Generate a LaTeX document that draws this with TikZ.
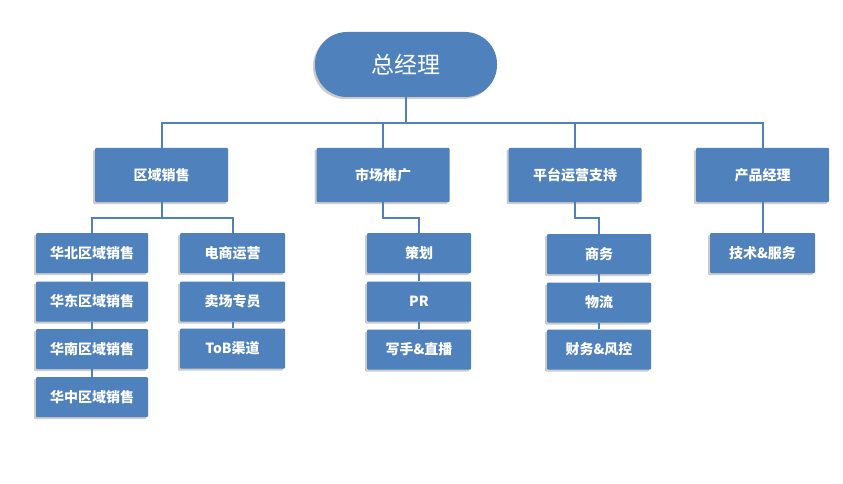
\documentclass[tikz,border=0pt]{standalone}
\usepackage{fontspec}
\newfontfamily\cjk{Noto Sans CJK SC}
\usetikzlibrary{shadows}
\definecolor{boxblue}{HTML}{4F81BD}
\tikzset{
  x=1pt, y=-1pt,
  unitbox/.style={fill=boxblue, text=white, rounded corners=1pt, inner sep=0pt,
    font=\cjk\bfseries\fontsize{14}{15}\selectfont,
    drop shadow={shadow xshift=-2pt, shadow yshift=-2pt, fill=black, opacity=0.2}},
  mainbox/.style={unitbox, minimum width=133pt, minimum height=54pt},
  subbox/.style={unitbox, minimum width=105pt, minimum height=40pt},
  topbox/.style={unitbox, rounded corners=32pt, minimum width=182pt, minimum height=65pt,
    font=\cjk\fontsize{23}{25}\selectfont},
  link/.style={draw=boxblue, line width=2pt}
}
\begin{document}
\begin{tikzpicture}
\useasboundingbox[fill=white] (0,0) rectangle (843,484);
% top
\node[topbox] (gm) at (406,64.5) {总经理};
% level 2
\node[mainbox] (a) at (161.5,175) {区域销售};
\node[mainbox] (b) at (383,175) {市场推广};
\node[mainbox] (c) at (575,175) {平台运营支持};
\node[mainbox] (d) at (762.5,175) {产品经理};
% level 3: 区域销售
\node[subbox, minimum width=112pt] (n1) at (92,253) {华北区域销售};
\node[subbox, minimum width=112pt] (n2) at (92,301.5) {华东区域销售};
\node[subbox, minimum width=112pt] (n3) at (92,349) {华南区域销售};
\node[subbox, minimum width=112pt] (n4) at (92,397) {华中区域销售};
\node[subbox] (e1) at (232.5,253) {电商运营};
\node[subbox] (e2) at (232.5,301.5) {卖场专员};
\node[subbox] (e3) at (232.5,348.5) {ToB渠道};
% 市场推广
\node[subbox, minimum width=104pt] (m1) at (419,253) {策划};
\node[subbox, minimum width=104pt] (m2) at (419,301.5) {PR};
\node[subbox, minimum width=104pt] (m3) at (419,349.5) {写手\&直播};
% 平台运营支持
\node[subbox, minimum width=104pt] (p1) at (599,254) {商务};
\node[subbox, minimum width=104pt] (p2) at (599,302.5) {物流};
\node[subbox, minimum width=104pt] (p3) at (599,349.5) {财务\&风控};
% 产品经理
\node[subbox] (t1) at (762.5,253) {技术\&服务};
% connectors
\coordinate (hb) at (406,123);
\draw[link] (gm.south) -- (gm.south |- hb);
\draw[link] (a.north) |- (hb) -| (d.north);
\draw[link] (b.north) -- (b.north |- hb);
\draw[link] (c.north) -- (c.north |- hb);
\coordinate (asplit) at (161.5,218);
\draw[link] (a.south) -- (asplit);
\draw[link] (n1.north) |- (asplit) -| (e1.north);
\draw[link] (n1.south) -- (n2.north);
\draw[link] (n2.south) -- (n3.north);
\draw[link] (n3.south) -- (n4.north);
\draw[link] (e1.south) -- (e2.north);
\draw[link] (e2.south) -- (e3.north);
\draw[link] (b.south) -- ++(0,16) -| (m1.north);
\draw[link] (m1.south) -- (m2.north);
\draw[link] (m2.south) -- (m3.north);
\draw[link] (c.south) -- ++(0,16) -| (p1.north);
\draw[link] (p1.south) -- (p2.north);
\draw[link] (p2.south) -- (p3.north);
\draw[link] (d.south) -- (t1.north);
\end{tikzpicture}
\end{document}
